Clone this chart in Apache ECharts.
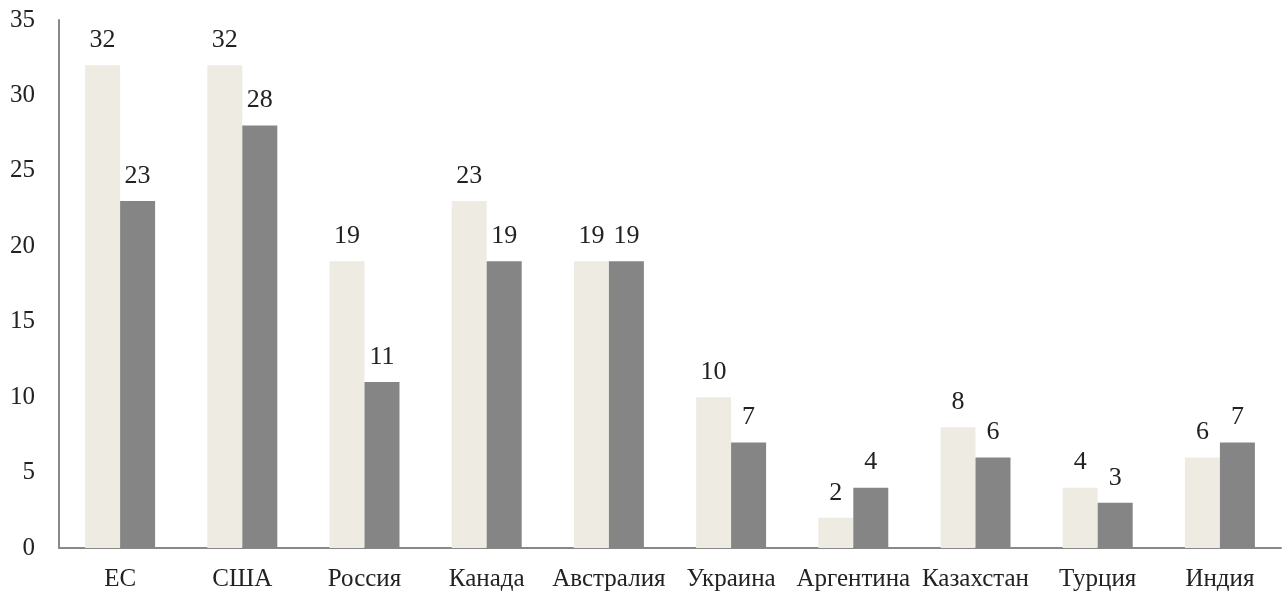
<!DOCTYPE html>
<html><head><meta charset="utf-8">
<script src="https://cdn.jsdelivr.net/npm/echarts@6/dist/echarts.min.js"></script>
<style>html,body{margin:0;padding:0;background:#fff}#c{width:1282px;height:596px}</style>
</head><body><div id="c"></div>
<script>
const categories = ['ЕС','США','Россия','Канада','Австралия','Украина','Аргентина','Казахстан','Турция','Индия'];
const series1 = [32,32,19,23,19,10,2,8,4,6];
const series2 = [23,28,11,19,19,7,4,6,3,7];
const yTicks = [0,5,10,15,20,25,30,35];
const font = '"Liberation Serif","Times New Roman",serif';
const chart = echarts.init(document.getElementById('c'));
const lbl = {show:true, position:'top', distance:12, color:'#222', fontFamily:font, fontSize:26};
chart.setOption({
  animation:false,
  grid:{left:59, right:1, top:20, bottom:48, containLabel:false},
  xAxis:{type:'category', data:categories,
    axisLine:{lineStyle:{color:'#888', width:2}}, axisTick:{show:false},
    axisLabel:{color:'#222', fontFamily:font, fontSize:25, margin:19, interval:0}},
  yAxis:{type:'value', min:yTicks[0], max:yTicks[yTicks.length-1], interval:yTicks[1]-yTicks[0],
    axisLine:{show:true, lineStyle:{color:'#888', width:2}}, axisTick:{show:false},
    splitLine:{show:false},
    axisLabel:{color:'#222', fontFamily:font, fontSize:25, margin:24}},
  series:[
    {type:'bar', data:series1, barWidth:35, barGap:'0%', itemStyle:{color:'#EEEBE3'}, label:lbl},
    {type:'bar', data:series2, barWidth:35, barGap:'0%', itemStyle:{color:'#858585'}, label:lbl}
  ]
});
</script></body></html>
